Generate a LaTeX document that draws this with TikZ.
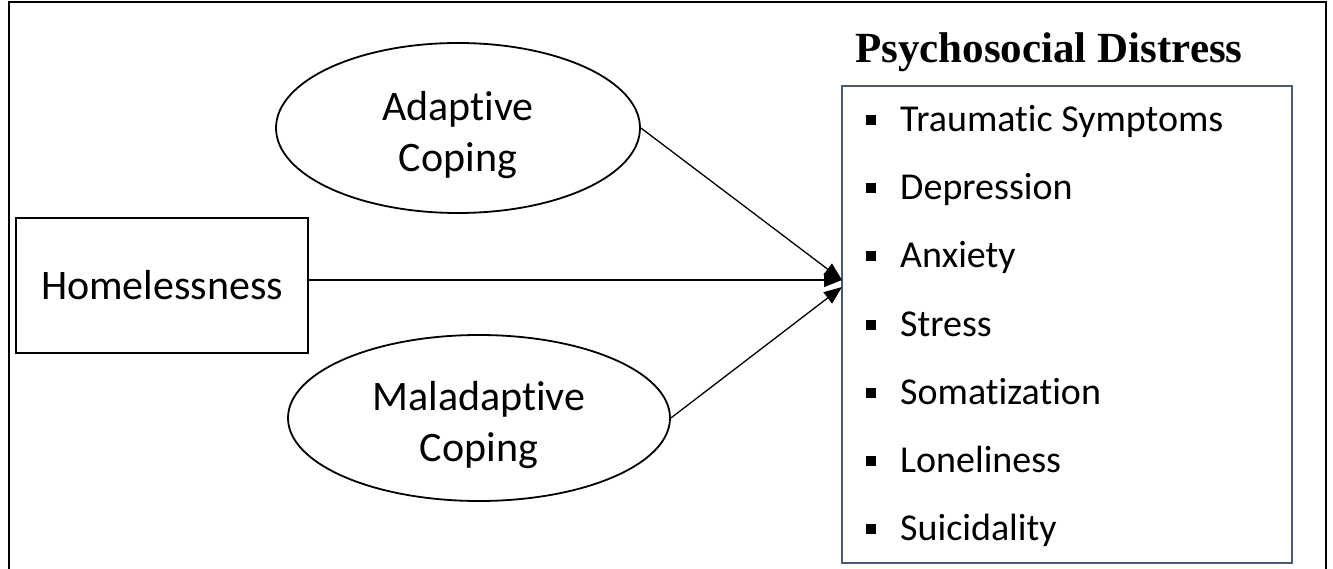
\documentclass[tikz,border=0pt]{standalone}
\usepackage{fontspec}
\setmainfont{Carlito}[Ligatures=NoCommon]
\newfontfamily\titlefont{Liberation Serif}
\usetikzlibrary{shapes.geometric,arrows.meta}
\definecolor{slate}{RGB}{74,90,114}
\begin{document}
\begin{tikzpicture}[x=1pt,y=-1pt,
  frame/.style={line width=2.5pt},
  var/.style={draw, line width=2.2pt, inner sep=0pt, font=\fontsize{42}{51}\selectfont, align=center},
  oval/.style={var, ellipse, line width=1.8pt, text height=94pt},
  arr/.style={line width=1.3pt, -{Triangle[length=18pt,width=14pt]}},
  item/.style={anchor=base west, inner sep=0pt, font=\fontsize{38}{44}\selectfont},
  bul/.style={fill=black, minimum size=10pt, inner sep=0pt}]
\useasboundingbox (0,0) rectangle (1333,569);
\draw[frame] (9,569) -- (9,2) -- (1326,2) -- (1326,569);
\node[var, minimum width=292pt, minimum height=135pt] (home) at (162,285.5) {Homelessness};
\node[oval, minimum width=364pt, minimum height=170pt] (adapt) at (458,128) {Adaptive\\Coping};
\node[oval, minimum width=382pt, minimum height=166pt] (malad) at (479,418) {Maladaptive\\Coping};
\node[draw=slate, line width=2.5pt, minimum width=450pt, minimum height=477pt, inner sep=0pt] (dist) at (1067,324.5) {};
\node[anchor=base west, inner sep=0pt, font=\titlefont\bfseries\fontsize{43}{50}\selectfont] (title) at (855,63) {Psychosocial Distress};
\coordinate (tipA) at (842,280);
\coordinate (tipM) at (842,287);
\draw[arr] (adapt.east) -- (tipA);
\draw[arr] (home.east |- tipA) -- (tipA);
\draw[arr] (malad.east) -- (tipM);
\foreach \t [count=\i from 0] in {Traumatic Symptoms, Depression, Anxiety, Stress, Somatization, Loneliness, Suicidality} {
  \node[item] (it\i) at (900, 132+68*\i) {\t};
  \node[bul] (b\i) at (871, 120.5+68*\i) {};
}
\end{tikzpicture}
\end{document}
